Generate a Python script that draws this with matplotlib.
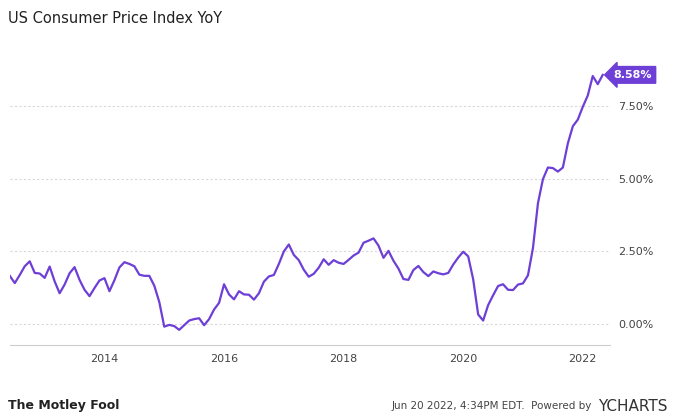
import numpy as np
import matplotlib.pyplot as plt

# monthly US CPI YoY (%), Jun 2012 .. May 2022
cpi_2012 = [1.66, 1.41, 1.69, 1.99, 2.16, 1.76, 1.74]
cpi_2013 = [1.59, 1.98, 1.47, 1.06, 1.36, 1.75, 1.96, 1.52, 1.18, 0.96, 1.24, 1.50]
cpi_2014 = [1.58, 1.13, 1.51, 1.95, 2.13, 2.07, 1.99, 1.70, 1.66, 1.66, 1.32, 0.76]
cpi_2015 = [-0.09, -0.03, -0.07, -0.20, -0.04, 0.12, 0.17, 0.20, -0.04, 0.17, 0.50, 0.73]
cpi_2016 = [1.37, 1.02, 0.85, 1.13, 1.02, 1.01, 0.84, 1.06, 1.46, 1.64, 1.69, 2.07]
cpi_2017 = [2.50, 2.74, 2.38, 2.20, 1.87, 1.63, 1.73, 1.94, 2.23, 2.04, 2.20, 2.11]
cpi_2018 = [2.07, 2.21, 2.36, 2.46, 2.80, 2.87, 2.95, 2.70, 2.28, 2.52, 2.18, 1.91]
cpi_2019 = [1.55, 1.52, 1.86, 2.00, 1.79, 1.65, 1.81, 1.75, 1.71, 1.76, 2.05, 2.29]
cpi_2020 = [2.49, 2.33, 1.54, 0.33, 0.12, 0.65, 0.99, 1.31, 1.37, 1.18, 1.17, 1.36]
cpi_2021 = [1.40, 1.68, 2.62, 4.16, 4.99, 5.39, 5.37, 5.25, 5.39, 6.22, 6.81, 7.04]
cpi_2022 = [7.48, 7.87, 8.54, 8.26, 8.58]

vals = (cpi_2012 + cpi_2013 + cpi_2014 + cpi_2015 + cpi_2016 + cpi_2017
        + cpi_2018 + cpi_2019 + cpi_2020 + cpi_2021 + cpi_2022)
t = 2012 + 5/12 + np.arange(len(vals)) / 12.0

yticks = [0, 2.5, 5, 7.5]
ylabels = ['0.00%', '2.50%', '5.00%', '7.50%']
xticks = [2014, 2016, 2018, 2020, 2022]

purple = '#6d3fd6'
fig = plt.figure(figsize=(7, 4.2), dpi=100)
ax = fig.add_axes([0.014, 0.178, 0.857, 0.735])
ax.plot(t, vals, color=purple, lw=1.6)
ax.set_xlim(2012 + 5/12, 2022.45)
ax.set_ylim(-0.73, 9.9)
ax.set_yticks(yticks)
ax.set_yticklabels(ylabels)
ax.yaxis.tick_right()
ax.set_xticks(xticks)
ax.set_xticklabels([str(x) for x in xticks])
ax.tick_params(length=0, labelsize=8, colors='#444444', pad=6)
ax.grid(axis='y', ls=(0, (2, 2)), color='#d8d8d8', lw=0.8)
for s in ['top', 'left', 'right']:
    ax.spines[s].set_visible(False)
ax.spines['bottom'].set_color('#cccccc')

ax.annotate('%.2f%%' % vals[-1], xy=(t[-1], vals[-1]), xytext=(8, 0),
            textcoords='offset points', va='center', ha='left', fontsize=8,
            color='white', fontweight='bold',
            bbox=dict(boxstyle='larrow,pad=0.3', fc=purple, ec=purple))

fig.text(0.012, 0.955, 'US Consumer Price Index YoY', fontsize=10.5, color='#222222', va='center')
fig.text(0.012, 0.025, 'The Motley Fool', fontsize=9, fontweight='bold', color='#222222')
fig.text(0.845, 0.027, 'Jun 20 2022, 4:34PM EDT.  Powered by', fontsize=7.5,
         color='#444444', ha='right')
fig.text(0.855, 0.022, 'YCHARTS', fontsize=11, color='#333333')
fig.savefig('out.png', dpi=100)
